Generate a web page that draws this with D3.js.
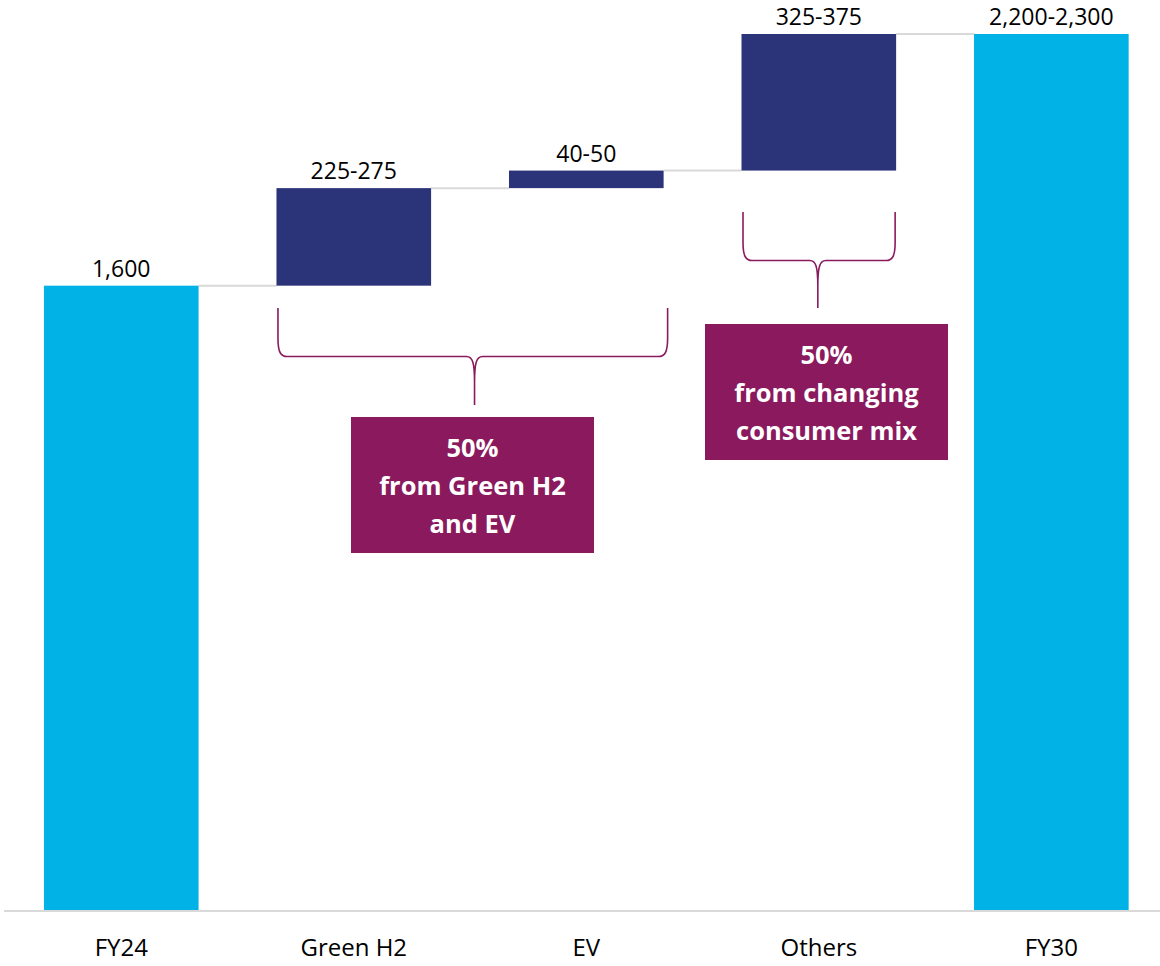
<!DOCTYPE html>
<html>
<head>
<meta charset="utf-8">
<script src="https://cdn.jsdelivr.net/npm/d3@7"></script>
<style>
  html, body { margin: 0; padding: 0; background: #ffffff; }
  svg { display: block; }
  text { font-family: "Segoe UI", "Open Sans", "Noto Sans", sans-serif; }
</style>
</head>
<body>
<svg id="chart" width="1160" height="966"></svg>
<script>
// Waterfall: FY24 base, three growth drivers, FY30 total
const categories = ["FY24", "Green H2", "EV", "Others", "FY30"];
const barKinds   = ["total", "step", "step", "step", "total"];
const barValues  = [1600, 250, 45, 350, 2245];
const valueLabels = ["1,600", "225-275", "40-50", "325-375", "2,200-2,300"];

// Bracketed call-outs grouping the drivers
const noteSpans = [["Green H2", "EV"], ["Others", "Others"]];
const noteLines = [
  ["50%", "from Green H2", "and EV"],
  ["50%", "from changing", "consumer mix"]
];

const COLORS = { total: "#00B2E6", step: "#2C3479", note: "#8A1A5D", grid: "#D9D9D9" };

const svg = d3.select("#chart");
const baseY = 910;

const x = d3.scaleBand()
  .domain(categories)
  .range([5, 1167.6])
  .paddingInner(0.335)
  .paddingOuter(0.1675);

const y = d3.scaleLinear().domain([0, 2245]).range([baseY, 34]);

// Build running start/end for every bar
let running = 0;
const bars = categories.map((c, i) => {
  let start, end;
  if (barKinds[i] === "total") { start = 0; end = barValues[i]; running = barValues[i]; }
  else { start = running; end = running + barValues[i]; running = end; }
  return { cat: c, kind: barKinds[i], start, end, label: valueLabels[i] };
});

// Connector lines between consecutive bars
const connectors = bars.slice(0, -1).map((b, i) => ({
  x1: x(b.cat) + x.bandwidth(),
  x2: x(bars[i + 1].cat),
  yv: b.end
}));
svg.append("g").selectAll("line").data(connectors).join("line")
  .attr("x1", d => d.x1).attr("x2", d => d.x2)
  .attr("y1", d => y(d.yv)).attr("y2", d => y(d.yv))
  .attr("stroke", COLORS.grid).attr("stroke-width", 2);

// Bars
svg.append("g").selectAll("rect").data(bars).join("rect")
  .attr("x", d => x(d.cat))
  .attr("width", x.bandwidth())
  .attr("y", d => y(Math.max(d.start, d.end)))
  .attr("height", d => Math.abs(y(d.start) - y(d.end)))
  .attr("fill", d => COLORS[d.kind]);

// Value labels
svg.append("g").selectAll("text").data(bars).join("text")
  .attr("x", d => x(d.cat) + x.bandwidth() / 2)
  .attr("y", d => y(Math.max(d.start, d.end)) - 9)
  .attr("text-anchor", "middle")
  .attr("font-size", 23)
  .attr("fill", "#000000")
  .text(d => d.label);

// Baseline axis
const axis = svg.append("g").attr("transform", `translate(0,${baseY + 1})`)
  .call(d3.axisBottom(x).tickSize(0).tickPadding(28));
axis.select(".domain").attr("d", "M4,0H1160").attr("stroke", COLORS.grid).attr("stroke-width", 2);
axis.selectAll(".tick text")
  .attr("font-size", 24)
  .attr("font-family", "\"Segoe UI\", \"Open Sans\", sans-serif")
  .attr("fill", "#000000");

// Curly brace path: left/right legs drop from top, tip points down at cx
function bracePath(x0, x1, top, hy, cx, bottom) {
  const r = 9;
  return [
    `M${x0},${top}`,
    `L${x0},${hy - 18}`,
    `C${x0},${hy - 4} ${x0 + 3},${hy} ${x0 + r},${hy}`,
    `L${cx - 8},${hy}`,
    `C${cx - 2},${hy} ${cx},${hy + 6} ${cx},${hy + 26}`,
    `L${cx},${bottom}`,
    `M${cx},${hy + 26}`,
    `C${cx},${hy + 6} ${cx + 2},${hy} ${cx + 8},${hy}`,
    `L${x1 - r},${hy}`,
    `C${x1 - 3},${hy} ${x1},${hy - 4} ${x1},${hy - 18}`,
    `L${x1},${top}`
  ].join(" ");
}

const noteLayout = [
  { top: 308, hy: 356.5, tipDx: 4.5, bottom: 405, box: { x: 351, y: 417, w: 243, h: 136 }, x1pad: 4 },
  { top: 212, hy: 260.5, tipDx: -1, bottom: 308, box: { x: 705, y: 324, w: 243, h: 136 }, x1pad: -1 }
];

noteSpans.forEach((span, i) => {
  const L = noteLayout[i];
  const x0 = x(span[0]) + 1.5;
  const x1 = x(span[1]) + x.bandwidth() + L.x1pad;
  const cx = (x(span[0]) + x(span[1]) + x.bandwidth()) / 2 + L.tipDx;
  svg.append("path")
    .attr("d", bracePath(x0, x1, L.top, L.hy, cx, L.bottom))
    .attr("fill", "none")
    .attr("stroke", COLORS.note)
    .attr("stroke-width", 1.6);

  svg.append("rect")
    .attr("x", L.box.x).attr("y", L.box.y)
    .attr("width", L.box.w).attr("height", L.box.h)
    .attr("fill", COLORS.note);

  svg.append("g").selectAll("text").data(noteLines[i]).join("text")
    .attr("x", L.box.x + L.box.w / 2)
    .attr("y", (d, j) => L.box.y + 40 + j * 38)
    .attr("text-anchor", "middle")
    .attr("font-size", 25.5)
    .attr("font-weight", "bold")
    .attr("fill", "#ffffff")
    .text(d => d);
});
</script>
</body>
</html>
